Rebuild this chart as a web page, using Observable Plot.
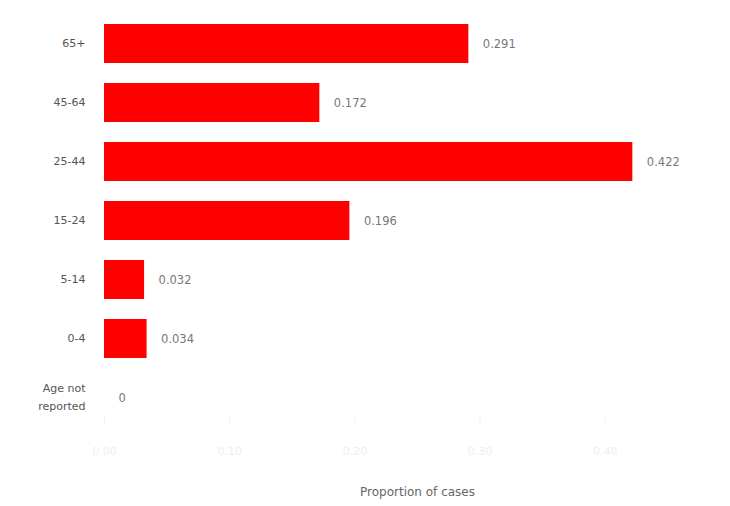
<!DOCTYPE html>
<html>
<head>
<meta charset="utf-8">
<script src="https://cdn.jsdelivr.net/npm/d3@7"></script>
<script src="https://cdn.jsdelivr.net/npm/@observablehq/plot@0.6"></script>
<style>
  html, body { margin: 0; padding: 0; background: #fff; }
  body { width: 730px; height: 506px; overflow: hidden; }
</style>
</head>
<body>
<div id="chart"></div>
<script>
const categories = ["65+", "45-64", "25-44", "15-24", "5-14", "0-4", "Age not\nreported"];
const values = [0.291, 0.172, 0.422, 0.196, 0.032, 0.034, 0];
const valueLabels = ["0.291", "0.172", "0.422", "0.196", "0.032", "0.034", "0"];
const xTicks = [0, 0.1, 0.2, 0.3, 0.4];
const xTitle = "Proportion of cases";

const data = categories.map((c, i) => ({category: c, value: values[i], label: valueLabels[i]}));

const chart = Plot.plot({
  width: 730,
  height: 506,
  marginTop: 23,
  marginLeft: 104,
  marginRight: 0,
  marginBottom: 89,
  style: {fontFamily: "DejaVu Sans, sans-serif", fontSize: "11px", background: "#fff"},
  x: {domain: [0, 0.5], ticks: xTicks, label: null},
  y: {domain: categories, paddingInner: 0.34, paddingOuter: 0, label: null},
  marks: [
    Plot.axisY({tickSize: 0, tickPadding: 19, color: "#555", lineHeight: 1.7, dy: -3}),
    Plot.axisX({ticks: xTicks, color: "#eeeeee", tickSize: 8, tickPadding: 22, label: null}),
    Plot.barX(data, {x: "value", y: "category", fill: "#ff0000"}),
    Plot.text(data, {x: "value", y: "category", text: "label", textAnchor: "start", dx: 14, fill: "#777", fontSize: 11.5}),
    Plot.text([xTitle], {frameAnchor: "bottom", dy: 78, fill: "#666", fontSize: 12})
  ]
});
document.getElementById("chart").appendChild(chart);
</script>
</body>
</html>
